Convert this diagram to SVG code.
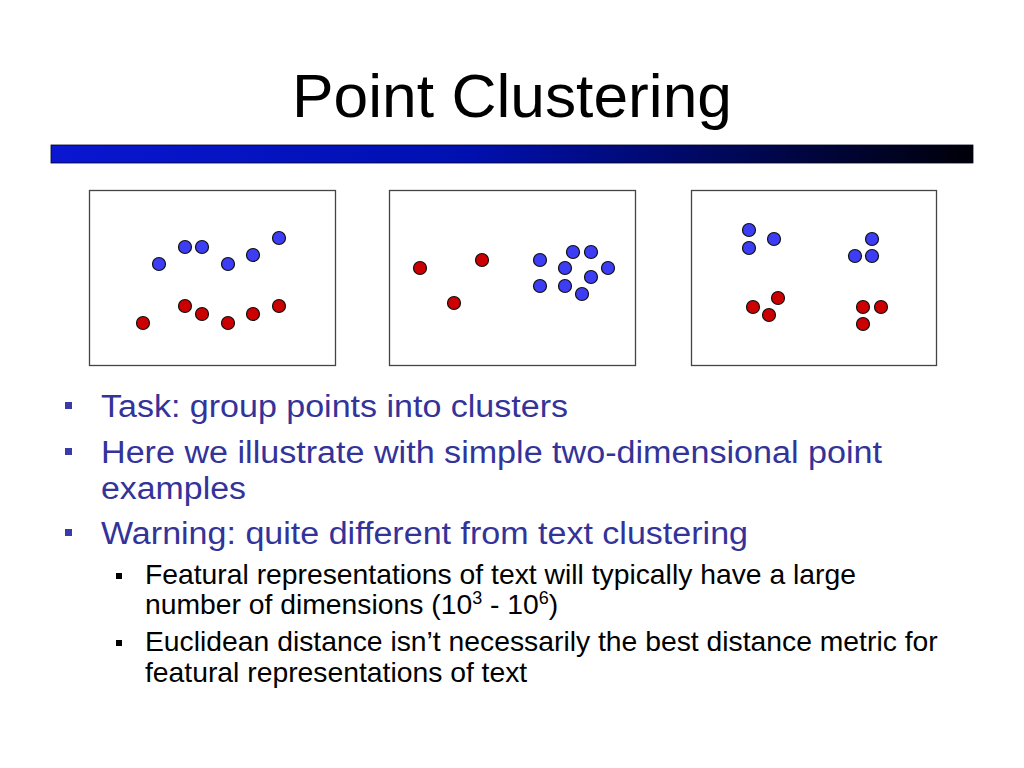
<svg xmlns="http://www.w3.org/2000/svg" width="1024" height="768" viewBox="0 0 1024 768">
<defs>
<linearGradient id="bar" x1="0" y1="0" x2="1" y2="0">
<stop offset="0" stop-color="#0a16d0"/>
<stop offset="0.45" stop-color="#0010b0"/>
<stop offset="1" stop-color="#000008"/>
</linearGradient>
<style>
.box{fill:#fff;stroke:#444;stroke-width:1.3}
.b{fill:#3d3df5;stroke:#111;stroke-width:1.2}
.r{fill:#cc0000;stroke:#111;stroke-width:1.2}
.t1{font-family:"Liberation Sans",Arial,sans-serif;font-size:31px;fill:#333399}
.t2{font-family:"Liberation Sans",Arial,sans-serif;font-size:28.3px;fill:#000}
.sq1{fill:#3a3aa8}
.sq2{fill:#000}
</style>
</defs>
<rect width="1024" height="768" fill="#fff"/>
<text x="512" y="117" text-anchor="middle" font-family="Liberation Sans, Arial, sans-serif" font-size="61" fill="#000" textLength="440" lengthAdjust="spacingAndGlyphs">Point Clustering</text>
<rect x="51" y="145" width="922" height="18" fill="url(#bar)" stroke="#000022" stroke-width="0.8"/>

<g id="panel1">
<rect class="box" x="89.5" y="190.5" width="246" height="175"/>
<circle class="b" cx="159" cy="264" r="6.5"/>
<circle class="b" cx="185" cy="247" r="6.5"/>
<circle class="b" cx="202" cy="247" r="6.5"/>
<circle class="b" cx="228" cy="264" r="6.5"/>
<circle class="b" cx="253" cy="255" r="6.5"/>
<circle class="b" cx="279" cy="238" r="6.5"/>
<circle class="r" cx="143" cy="323" r="6.5"/>
<circle class="r" cx="185" cy="306" r="6.5"/>
<circle class="r" cx="202" cy="314" r="6.5"/>
<circle class="r" cx="228" cy="323" r="6.5"/>
<circle class="r" cx="253" cy="314" r="6.5"/>
<circle class="r" cx="279" cy="306" r="6.5"/>
</g>

<g id="panel2">
<rect class="box" x="389.5" y="190.5" width="246" height="175"/>
<circle class="r" cx="420" cy="268" r="6.5"/>
<circle class="r" cx="482" cy="260" r="6.5"/>
<circle class="r" cx="454" cy="303" r="6.5"/>
<circle class="b" cx="540" cy="260" r="6.5"/>
<circle class="b" cx="573" cy="252" r="6.5"/>
<circle class="b" cx="591" cy="252" r="6.5"/>
<circle class="b" cx="565" cy="268" r="6.5"/>
<circle class="b" cx="608" cy="268" r="6.5"/>
<circle class="b" cx="591" cy="277" r="6.5"/>
<circle class="b" cx="540" cy="286" r="6.5"/>
<circle class="b" cx="565" cy="286" r="6.5"/>
<circle class="b" cx="582" cy="294" r="6.5"/>
</g>

<g id="panel3">
<rect class="box" x="691.5" y="190.5" width="245" height="175"/>
<circle class="b" cx="749" cy="230" r="6.5"/>
<circle class="b" cx="749" cy="248" r="6.5"/>
<circle class="b" cx="774" cy="239" r="6.5"/>
<circle class="b" cx="872" cy="239" r="6.5"/>
<circle class="b" cx="855" cy="256" r="6.5"/>
<circle class="b" cx="872" cy="256" r="6.5"/>
<circle class="r" cx="753" cy="307" r="6.5"/>
<circle class="r" cx="778" cy="298" r="6.5"/>
<circle class="r" cx="769" cy="315" r="6.5"/>
<circle class="r" cx="863" cy="307" r="6.5"/>
<circle class="r" cx="881" cy="307" r="6.5"/>
<circle class="r" cx="863" cy="324" r="6.5"/>
</g>

<g id="bullets">
<rect class="sq1" x="65" y="402" width="7" height="7"/>
<text class="t1" x="101" y="417" textLength="467" lengthAdjust="spacingAndGlyphs">Task: group points into clusters</text>
<rect class="sq1" x="65" y="448" width="7" height="7"/>
<text class="t1" x="101" y="463" textLength="781" lengthAdjust="spacingAndGlyphs">Here we illustrate with simple two-dimensional point</text>
<text class="t1" x="101" y="499" textLength="145" lengthAdjust="spacingAndGlyphs">examples</text>
<rect class="sq1" x="65" y="529" width="7" height="7"/>
<text class="t1" x="101" y="544" textLength="647" lengthAdjust="spacingAndGlyphs">Warning: quite different from text clustering</text>
<rect class="sq2" x="116" y="573" width="6" height="6"/>
<text class="t2" x="145" y="584">Featural representations of text will typically have a large</text>
<text class="t2" x="145" y="614">number of dimensions (10<tspan dy="-10" font-size="18">3</tspan><tspan dy="10"> - 10</tspan><tspan dy="-10" font-size="18">6</tspan><tspan dy="10">)</tspan></text>
<rect class="sq2" x="116" y="640" width="6" height="6"/>
<text class="t2" x="145" y="651">Euclidean distance isn’t necessarily the best distance metric for</text>
<text class="t2" x="145" y="682">featural representations of text</text>
</g>
</svg>
